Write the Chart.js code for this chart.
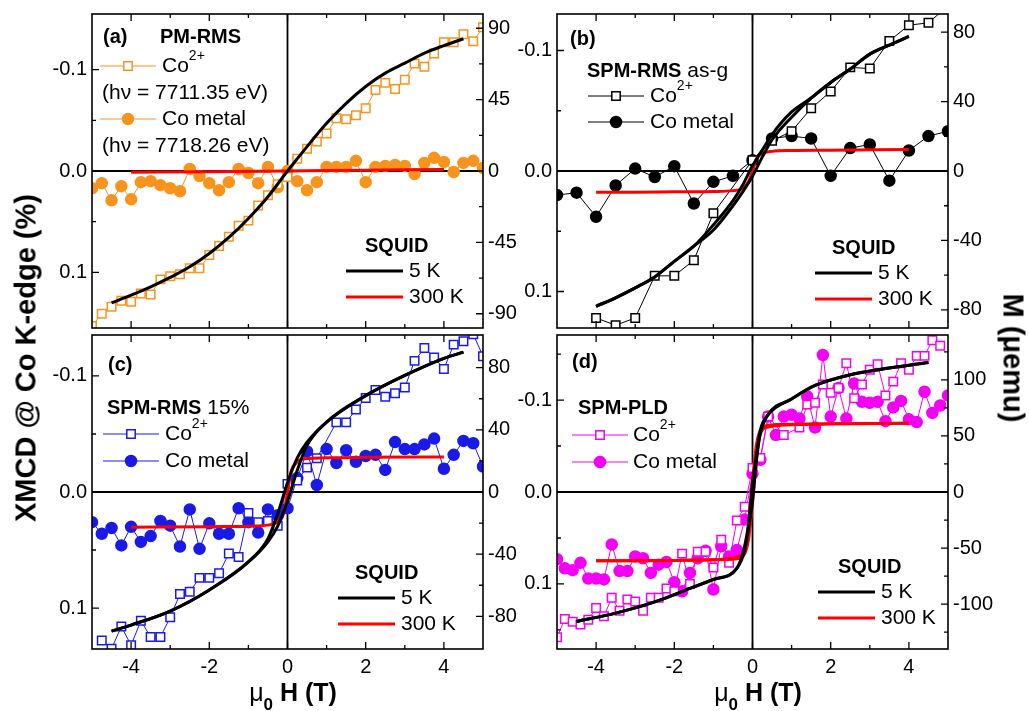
<!DOCTYPE html>
<html>
<head>
<meta charset="utf-8">
<script src="https://cdn.jsdelivr.net/npm/chart.js@4.4.0/dist/chart.umd.min.js"></script>
<style>
	body { margin: 0; background: #fff; font-family: "Liberation Sans", Arial, sans-serif; }
	#wrap { position: relative; width: 1029px; height: 711px; overflow: hidden; }
	canvas { position: absolute; }
	.ttl { position: absolute; font-weight: bold; font-size: 29px; white-space: nowrap; color: #000; }
	.xt { position: absolute; top: 678px; font-weight: bold; font-size: 25px; white-space: nowrap; transform: translateX(-50%); }
	.xt .mu { font-weight: normal; }
	.xt sub { font-size: 17px; position: relative; top: 3px; }
</style>
</head>
<body>
<div id="wrap">
	<canvas id="ca" width="480" height="340" style="left:40px;top:0px"></canvas>
	<canvas id="cb" width="500" height="340" style="left:505px;top:0px"></canvas>
	<canvas id="cc" width="480" height="396" style="left:40px;top:315px"></canvas>
	<canvas id="cd" width="500" height="396" style="left:505px;top:315px"></canvas>
	<div class="ttl" style="left:26px;top:358px;transform:translate(-50%,-50%) rotate(-90deg)">XMCD @ Co K-edge (%)</div>
	<div class="ttl" style="left:1013px;top:358px;transform:translate(-50%,-50%) rotate(90deg)">M (μemu)</div>
	<div class="xt" style="left:293px"><span class="mu">μ</span><sub>0</sub> H (T)</div>
	<div class="xt" style="left:758px"><span class="mu">μ</span><sub>0</sub> H (T)</div>
</div>
<script>
// ---- data (a) PM-RMS ----
const aH = [-5,-4.75,-4.5,-4.25,-4,-3.75,-3.5,-3.25,-3,-2.75,-2.5,-2.25,-2,-1.75,-1.5,-1.25,-1,-0.75,-0.5,-0.25,0,0.25,0.5,0.75,1,1.25,1.5,1.75,2,2.25,2.5,2.75,3,3.25,3.5,3.75,4,4.25,4.5,4.75,5]
const aCo2 = [0.153,0.141,0.134,0.128,0.129,0.121,0.122,0.107,0.104,0.102,0.096,0.096,0.083,0.074,0.065,0.054,0.049,0.034,0.024,0.013,0.006,-0.012,-0.022,-0.029,-0.037,-0.052,-0.051,-0.055,-0.062,-0.080,-0.087,-0.081,-0.090,-0.106,-0.103,-0.116,-0.127,-0.127,-0.135,-0.128,-0.142]
const aMetal = [0.017,0.012,0.029,0.015,0.028,0.011,0.010,0.014,0.017,0.020,-0.002,0.005,0.012,0.019,0.011,-0.002,0.002,0.012,-0.004,0.016,0.000,0.010,0.019,0.011,-0.004,-0.004,-0.004,-0.010,0.011,-0.004,-0.005,-0.006,-0.005,0.003,-0.008,-0.013,-0.009,0.001,-0.008,-0.010,-0.003]
const a5kH = [-4.5,-4,-3.5,-3,-2.5,-2,-1.5,-1,-0.5,0,0.5,1,1.5,2,2.5,3,3.5,4,4.5]
const a5k = [-83.1,-78.3,-73,-67.1,-60.4,-52,-41.9,-29.9,-16.2,0,15.4,30.1,42.7,53.3,61.7,68,74.3,79.1,83.4]
const a300H = [-4,-2,0,2,4]
const a300 = [-0.8,-0.5,0,0.5,1.0]

// ---- data (b) SPM-RMS as-g ----
const bCo2H = [-4,-3.5,-3,-2.5,-2,-1.5,-1,0,0.5,1,1.5,2,2.5,3,3.5,4,4.5,5]
const bCo2 = [0.122,0.128,0.122,0.087,0.087,0.074,0.035,-0.009,-0.025,-0.033,-0.052,-0.066,-0.086,-0.085,-0.108,-0.121,-0.123,-0.137]
const bMetH = [-5,-4.5,-4,-3.5,-3,-2.5,-2,-1.5,-1,-0.5,0,0.5,1,1.5,2,2.5,3,3.5,4,4.5,5]
const bMetal = [0.020,0.018,0.038,0.012,-0.002,0.005,-0.004,0.027,0.009,0.004,-0.009,-0.027,-0.029,-0.027,0.004,-0.019,-0.022,0.008,-0.017,-0.029,-0.033]
const b5kH = [-4,-3.5,-3,-2.5,-2,-1.5,-1,-0.5,-0.25,0,0.25,0.5,1,1.5,2,2.5,3,3.5,4]
const b5kUp = [-77.9,-73,-67.3,-61,-52,-43.3,-34,-20,-12,-3,8,18,31,42,51,58.7,67.3,72.5,77.5]
const b5kDown = [-77.9,-73,-67.3,-61,-52,-43.3,-31,-17,-8,3,12,21,34,42,51,58.7,67.3,72.5,77.5]
const b300H = [-4,-3,-2,-1,-0.5,-0.25,-0.1,0,0.1,0.25,0.5,1,2,3,4]
const b300 = [-12.3,-12.2,-12,-11.8,-11.3,-10,-6,0,7,10,11.3,11.8,12,12.2,12.4]

// ---- data (c) SPM-RMS 15% ----
const cCo2H = [-4.75,-4.5,-4.25,-4,-3.75,-3.5,-3.25,-3,-2.75,-2.5,-2.25,-2,-1.75,-1.5,-1.25,-1,-0.75,-0.5,-0.25,0,0.25,0.5,0.75,1.25,1.5,1.75,2,2.25,2.5,2.75,3,3.25,3.5,3.75,4,4.25,4.5,4.75,5]
const cCo2 = [0.128,0.135,0.116,0.132,0.111,0.125,0.125,0.108,0.088,0.086,0.074,0.074,0.070,0.053,0.056,0.018,0.026,0.025,0.029,-0.007,-0.010,-0.021,-0.029,-0.060,-0.060,-0.071,-0.081,-0.088,-0.082,-0.085,-0.090,-0.113,-0.124,-0.116,-0.106,-0.127,-0.130,-0.136,-0.117]
const cMetH = aH
const cMetal = [0.026,0.036,0.031,0.046,0.030,0.043,0.038,0.025,0.029,0.047,0.015,0.049,0.027,0.036,0.036,0.014,0.026,0.035,0.015,0.020,0.014,-0.012,-0.035,-0.006,-0.037,-0.025,-0.036,-0.026,-0.031,-0.032,-0.019,-0.043,-0.037,-0.037,-0.041,-0.046,-0.020,-0.032,-0.044,-0.042,-0.022]
const c5kH = [-4.5,-4,-3,-2,-1,-0.5,-0.25,0,0.25,0.5,1,2,3,4,4.5]
const c5kUp = [-89.5,-85.6,-76.6,-63,-45,-32,-22,-6,14,30,45,62,75,86,90]
const c5kDown = [-89.5,-85.6,-76.6,-63,-45,-30,-14,6,22,32,45,62,75,86,90]
const c300H = [-4,-2,-1,-0.5,-0.3,-0.2,-0.1,0,0.1,0.2,0.3,0.5,1,2,4]
const c300 = [-22.6,-22.3,-22,-21.3,-20,-18,-14,0,14,18,20.5,21.5,22,22.3,22.5]

// ---- data (d) SPM-PLD ----
const dCo2H = [-5,-4.8,-4.6,-4.4,-4.2,-4,-3.8,-3.6,-3.4,-3.2,-3,-2.8,-2.6,-2.4,-2.2,-2,-1.8,-1.6,-1.4,-1.2,-1,-0.8,-0.6,-0.4,-0.2,0,0.2,0.4,0.8,1.2,1.4,1.6,1.8,2,2.2,2.4,2.6,2.8,3,3.2,3.4,3.6,3.8,4,4.2,4.4,4.6,4.8]
const dCo2 = [0.158,0.138,0.141,0.144,0.139,0.126,0.135,0.115,0.129,0.117,0.119,0.129,0.115,0.115,0.105,0.108,0.067,0.100,0.065,0.065,0.082,0.052,0.077,0.031,0.016,-0.026,-0.037,-0.082,-0.062,-0.070,-0.095,-0.097,-0.117,-0.108,-0.113,-0.140,-0.102,-0.117,-0.133,-0.139,-0.105,-0.120,-0.140,-0.133,-0.148,-0.148,-0.165,-0.159]
const dMetH = [-5,-4.8,-4.6,-4.4,-4.2,-4,-3.8,-3.6,-3.4,-3.2,-3,-2.8,-2.6,-2.4,-2.2,-2,-1.8,-1.6,-1.4,-1.2,-1,-0.8,-0.6,-0.4,-0.2,0,0.2,0.4,0.6,0.8,1,1.2,1.4,1.6,1.8,2,2.2,2.4,2.6,2.8,3,3.2,3.4,3.6,3.8,4,4.2,4.4,4.6,4.8,5]
const dMetal = [0.073,0.083,0.085,0.077,0.094,0.094,0.095,0.057,0.086,0.086,0.070,0.072,0.088,0.079,0.076,0.098,0.108,0.088,0.072,0.064,0.106,0.059,0.070,0.063,0.030,-0.020,-0.035,-0.082,-0.062,-0.082,-0.084,-0.080,-0.104,-0.070,-0.149,-0.082,-0.113,-0.080,-0.118,-0.098,-0.097,-0.098,-0.077,-0.092,-0.099,-0.079,-0.076,-0.109,-0.086,-0.094,-0.105]
const d5kH = [-4.5,-3.5,-2.5,-1.6,-1,-0.4,-0.2,-0.1,0,0.1,0.2,0.4,1,1.6,2.5,3.5,4.5]
const d5kUp = [-115.5,-108,-98,-86,-78,-68,-52,-32,-8,28,52,69,83,95,104.5,110.5,115.5]
const d5kDown = [-115.5,-108,-98,-86,-78,-68,-48,-28,8,32,55,69,83,95,104.5,110.5,115.5]
const d300H = [-4,-2,-1,-0.4,-0.2,-0.1,0,0.1,0.2,0.4,1,2,4]
const d300Up = [-61.3,-61,-60.5,-59.5,-55,-42,-10,30,52,58,60,60.8,61.3]
const d300Down = [-61.3,-61,-60.5,-58,-52,-30,10,42,55,59.5,60.5,60.8,61.3]

// ---- ticks ----
const xMajor = [-4,-2,0,2,4]
const xMinor = [-3,-1,1,3]

Chart.defaults.font.family = "'Liberation Sans', Arial, sans-serif"
Chart.defaults.font.size = 20
Chart.defaults.color = '#000'

const RED = '#ff0000'

function pts(xs, ys) {
	return xs.map((x, i) => ({ x: x, y: ys[i] }))
}
function squid(xs, ys, color) {
	return { data: pts(xs, ys), yAxisID: 'yR', showLine: true, borderColor: color, borderWidth: 3, pointRadius: 0, cubicInterpolationMode: 'monotone', clip: 0 }
}
function xmcd(xs, ys, color, style) {
	return {
		data: pts(xs, ys), yAxisID: 'yL', showLine: true, borderColor: color, borderWidth: 1,
		pointStyle: style, pointRadius: style == 'rect' ? 6 : 5.5,
		pointBorderColor: color, pointBackgroundColor: style == 'rect' ? '#fff' : color, pointBorderWidth: 1.5, clip: 0
	}
}

function drawParts(ctx, x, y, parts) {
	for (let p of parts) {
		let size = p.sup ? 14 : (p.size || 21)
		ctx.font = `${p.bold ? 'bold ' : ''}${size}px 'Liberation Sans', Arial, sans-serif`
		ctx.textBaseline = 'middle'
		ctx.fillStyle = '#000'
		ctx.fillText(p.t, x, p.sup ? y - 10 : y)
		x += ctx.measureText(p.t).width
	}
}

const deco = {
	id: 'deco',
	beforeDatasetsDraw(chart, args, o) {
		const { ctx, chartArea: a, scales } = chart
		const x0 = scales.x.getPixelForValue(0), y0 = scales.yL.getPixelForValue(0)
		ctx.save()
		ctx.strokeStyle = '#000'
		ctx.lineWidth = 1.8
		ctx.beginPath()
		ctx.moveTo(a.left, y0); ctx.lineTo(a.right, y0)
		ctx.moveTo(x0, a.top); ctx.lineTo(x0, a.bottom)
		ctx.stroke()
		ctx.restore()
	},
	afterDraw(chart, args, o) {
		const { ctx, chartArea: a, scales } = chart
		ctx.save()
		ctx.strokeStyle = '#000'
		ctx.lineWidth = 1.6
		ctx.strokeRect(a.left, a.top, a.right - a.left, a.bottom - a.top)
		ctx.lineWidth = 1.3
		ctx.beginPath()
		const tx = (vals, len) => vals.forEach(v => {
			const p = scales.x.getPixelForValue(v)
			ctx.moveTo(p, a.bottom); ctx.lineTo(p, a.bottom - len)
			ctx.moveTo(p, a.top); ctx.lineTo(p, a.top + len)
		})
		const ty = (id, vals, len, left) => vals.forEach(v => {
			const p = scales[id].getPixelForValue(v)
			const e = left ? a.left : a.right
			ctx.moveTo(e, p); ctx.lineTo(left ? e + len : e - len, p)
		})
		tx(xMajor, 7); tx(xMinor, 4)
		ty('yL', o.yMajor, 7, true); ty('yL', o.yMinor, 4, true)
		ty('yR', o.mMajor, 7, false); ty('yR', o.mMinor, 4, false)
		ctx.stroke()

		// legend and panel labels, page coords shifted by canvas offset
		const ox = o.ox, oy = o.oy
		for (let it of o.items) {
			if (it.parts) drawParts(ctx, it.x - ox, it.y - oy, it.parts)
			if (it.line) {
				ctx.strokeStyle = it.color
				ctx.lineWidth = it.w
				ctx.beginPath()
				ctx.moveTo(it.line[0] - ox, it.y - oy); ctx.lineTo(it.line[1] - ox, it.y - oy)
				ctx.stroke()
				if (it.mark) {
					const mx = (it.line[0] + it.line[1]) / 2 - ox, my = it.y - oy
					ctx.lineWidth = 1.5
					ctx.beginPath()
					if (it.mark == 'rect') {
						ctx.fillStyle = '#fff'
						ctx.rect(mx - 4.2, my - 4.2, 8.4, 8.4)
						ctx.fill(); ctx.stroke()
					} else {
						ctx.fillStyle = it.color
						ctx.arc(mx, my, 5.5, 0, Math.PI * 2)
						ctx.fill(); ctx.stroke()
					}
				}
			}
		}
		ctx.restore()
	}
}

function legendItems(p) {
	const L = p.leg
	let items = []
	items.push({ x: L.tagX, y: L.tagY, parts: [{ t: p.tag, bold: true, size: 20 }] })
	items.push({ x: L.nameX, y: L.nameY, parts: p.name })
	items.push({ line: [L.sx, L.sx + 56], y: L.co2Y, color: p.color, w: 1, mark: 'rect' })
	items.push({ x: L.tx, y: L.co2Y, parts: [{ t: 'Co' }, { t: '2+', sup: true }] })
	items.push({ line: [L.sx, L.sx + 56], y: L.metY, color: p.color, w: 1, mark: 'circle' })
	items.push({ x: L.tx, y: L.metY, parts: [{ t: 'Co metal' }] })
	if (p.notes) p.notes.forEach(n => items.push(n))
	items.push({ x: L.qX, y: L.qY, parts: [{ t: 'SQUID', bold: true, size: 20 }] })
	items.push({ line: [L.lx, L.lx + 57], y: L.qY + 25, color: '#000', w: 3 })
	items.push({ x: L.lx + 63, y: L.qY + 25, parts: [{ t: '5 K' }] })
	items.push({ line: [L.lx, L.lx + 57], y: L.qY + 51, color: RED, w: 3 })
	items.push({ x: L.lx + 63, y: L.qY + 51, parts: [{ t: '300 K' }] })
	return items
}

const panels = [
	{
		id: 'ca', ox: 40, oy: 0, padTop: 14, axL: 52, axR: 37, axB: 12, showX: false,
		yr: 0.155, mr: 99, yMajor: [-0.1, 0, 0.1], yMinor: [-0.05, 0.05],
		mMajor: [-90, -45, 0, 45, 90], mMinor: [-67.5, -22.5, 22.5, 67.5],
		color: '#f7941d', tag: '(a)', name: [{ t: 'PM-RMS', bold: true, size: 20 }],
		leg: { tagX: 103, tagY: 37, nameX: 160, nameY: 37, sx: 100, tx: 162, co2Y: 66, metY: 119, qX: 365, qY: 246, lx: 346 },
		notes: [{ x: 102, y: 93, parts: [{ t: '(hν = 7711.35 eV)' }] }, { x: 102, y: 146, parts: [{ t: '(hν = 7718.26 eV)' }] }],
		sets: [squid(a5kH, a5k, '#000'), squid(a300H, a300, RED), xmcd(aH, aCo2, '#f7941d', 'rect'), xmcd(aH, aMetal, '#f7941d', 'circle')]
	},
	{
		id: 'cb', ox: 505, oy: 0, padTop: 14, axL: 52, axR: 57, axB: 12, showX: false,
		yr: 0.1303, mr: 90.4, yMajor: [-0.1, 0, 0.1], yMinor: [-0.05, 0.05],
		mMajor: [-80, -40, 0, 40, 80], mMinor: [-60, -20, 20, 60],
		color: '#000', tag: '(b)', name: [{ t: 'SPM-RMS', bold: true, size: 20 }, { t: ' as-g' }],
		leg: { tagX: 570, tagY: 39, nameX: 587, nameY: 71, sx: 588, tx: 650, co2Y: 96, metY: 122, qX: 832, qY: 248, lx: 815 },
		sets: [squid(b5kH, b5kUp, '#000'), squid(b5kH, b5kDown, '#000'), squid(b300H, b300, RED), xmcd(bCo2H, bCo2, '#000', 'rect'), xmcd(bMetH, bMetal, '#000', 'circle')]
	},
	{
		id: 'cc', ox: 40, oy: 315, padTop: 20, axL: 52, axR: 37, axB: 62, showX: true,
		yr: 0.1353, mr: 101, yMajor: [-0.1, 0, 0.1], yMinor: [-0.05, 0.05],
		mMajor: [-80, -40, 0, 40, 80], mMinor: [-60, -20, 20, 60],
		color: '#1a1ae8', tag: '(c)', name: [{ t: 'SPM-RMS', bold: true, size: 20 }, { t: ' 15%' }],
		leg: { tagX: 108, tagY: 365, nameX: 107, nameY: 408, sx: 103, tx: 165, co2Y: 434, metY: 461, qX: 355, qY: 573, lx: 338 },
		sets: [squid(c5kH, c5kUp, '#000'), squid(c5kH, c5kDown, '#000'), squid(c300H, c300, RED), xmcd(cCo2H, cCo2, '#1a1ae8', 'rect'), xmcd(cMetH, cMetal, '#1a1ae8', 'circle')]
	},
	{
		id: 'cd', ox: 505, oy: 315, padTop: 20, axL: 52, axR: 57, axB: 62, showX: true,
		yr: 0.1707, mr: 140, yMajor: [-0.1, 0, 0.1], yMinor: [-0.15, -0.05, 0.05, 0.15],
		mMajor: [-100, -50, 0, 50, 100], mMinor: [-125, -75, -25, 25, 75, 125],
		color: '#f400f4', tag: '(d)', name: [{ t: 'SPM-PLD', bold: true, size: 20 }],
		leg: { tagX: 572, tagY: 362, nameX: 578, nameY: 408, sx: 572, tx: 633, co2Y: 435, metY: 462, qX: 838, qY: 567, lx: 818 },
		sets: [squid(d5kH, d5kUp, '#000'), squid(d5kH, d5kDown, '#000'), squid(d300H, d300Up, RED), squid(d300H, d300Down, RED), xmcd(dCo2H, dCo2, '#f400f4', 'rect'), xmcd(dMetH, dMetal, '#f400f4', 'circle')]
	}
]

for (let p of panels) {
	const fix = (w, h) => s => {
		if (w != null) s.width = w
		if (h != null) s.height = h
		s.paddingTop = 0; s.paddingBottom = 0; s.paddingLeft = 0; s.paddingRight = 0
	}
	new Chart(p.id, {
		type: 'scatter',
		data: { datasets: p.sets },
		plugins: [deco],
		options: {
			responsive: false,
			animation: false,
			layout: { padding: { top: p.padTop, left: 0, right: 0, bottom: 0 } },
			plugins: {
				legend: { display: false },
				tooltip: { enabled: false },
				deco: { ox: p.ox, oy: p.oy, yMajor: p.yMajor, yMinor: p.yMinor, mMajor: p.mMajor, mMinor: p.mMinor, items: legendItems(p) }
			},
			scales: {
				x: {
					type: 'linear', position: 'bottom', min: -5, max: 5,
					grid: { display: false, drawTicks: false }, border: { display: false },
					ticks: { display: p.showX, padding: 6, maxRotation: 0 },
					afterBuildTicks: s => { s.ticks = xMajor.map(v => ({ value: v })) },
					afterFit: fix(null, p.axB)
				},
				yL: {
					type: 'linear', position: 'left', min: -p.yr, max: p.yr, reverse: true,
					grid: { display: false, drawTicks: false }, border: { display: false },
					ticks: { padding: 5, callback: v => Math.abs(v) < 1e-9 ? '0.0' : v.toFixed(1) },
					afterBuildTicks: s => { s.ticks = p.yMajor.map(v => ({ value: v })) },
					afterFit: fix(p.axL, null)
				},
				yR: {
					type: 'linear', position: 'right', min: -p.mr, max: p.mr,
					grid: { display: false, drawTicks: false }, border: { display: false },
					ticks: { padding: 5, callback: v => String(v) },
					afterBuildTicks: s => { s.ticks = p.mMajor.map(v => ({ value: v })) },
					afterFit: fix(p.axR, null)
				}
			}
		}
	})
}
</script>
</body>
</html>
